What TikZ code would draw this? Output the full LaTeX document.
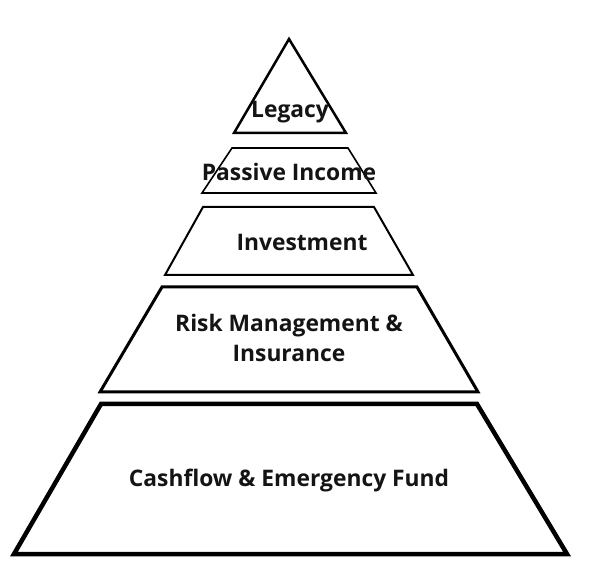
\documentclass[tikz,border=0pt]{standalone}
\usepackage{fontspec}
\setmainfont{Open Sans}
\begin{document}
\begin{tikzpicture}[x=1pt,y=-1pt,
  tier/.style={draw=black,fill=white,line join=miter},
  lbl/.style={font=\bfseries\fontsize{22.8}{30}\selectfont,text=black!92,align=center,inner sep=0pt}]
\useasboundingbox[fill=white] (0,0) rectangle (590,580);
% Legacy triangle
\draw[tier,line width=2.5pt] (289,39) -- (346,133) -- (234,133) -- cycle;
% Passive income
\draw[tier,line width=1.6pt] (232,148) -- (348,148) -- (376,193) -- (202,193) -- cycle;
% Investment
\draw[tier,line width=2pt] (203,207) -- (374,207) -- (413,275) -- (165,275) -- cycle;
% Risk management
\draw[tier,line width=3pt] (162,287) -- (417,287) -- (478,392) -- (100,392) -- cycle;
% Cashflow
\draw[tier,line width=4.5pt] (101,404) -- (477,404) -- (567,554) -- (14,554) -- cycle;
% Labels
\node[lbl] (legacy) at (290,112) {Legacy};
\node[lbl] (passive) at (289,172) {Passive Income};
\node[lbl] (invest) at (302,242) {Investment};
\node[lbl] (risk) at (289,338) {Risk Management \&\\Insurance};
\node[lbl] (cash) at (289,481) {Cashflow \& Emergency Fund};
\end{tikzpicture}
\end{document}
